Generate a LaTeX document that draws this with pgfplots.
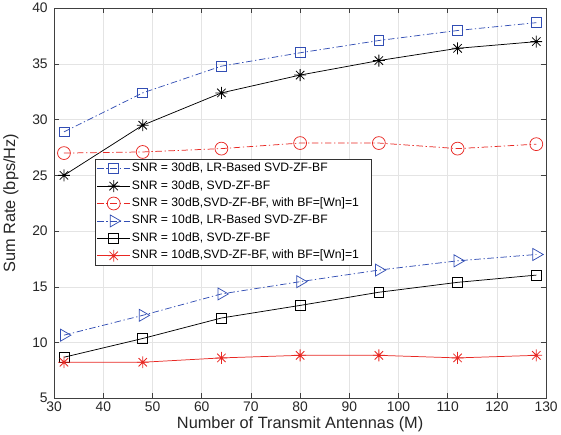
\documentclass[border=0pt]{standalone}
\usepackage{fontspec}
\setmainfont{Liberation Sans}
\usepackage{pgfplots}
\pgfplotsset{compat=1.18}
\definecolor{mblue}{RGB}{50,78,180}
\definecolor{mred}{RGB}{232,40,35}
\definecolor{gridc}{RGB}{228,228,228}
\pgfdeclareplotmark{mstar}{%
 \pgfpathmoveto{\pgfqpoint{-\pgfplotmarksize}{0pt}}\pgfpathlineto{\pgfqpoint{\pgfplotmarksize}{0pt}}%
 \pgfpathmoveto{\pgfqpoint{0pt}{-\pgfplotmarksize}}\pgfpathlineto{\pgfqpoint{0pt}{\pgfplotmarksize}}%
 \pgfpathmoveto{\pgfqpoint{-.7071\pgfplotmarksize}{-.7071\pgfplotmarksize}}\pgfpathlineto{\pgfqpoint{.7071\pgfplotmarksize}{.7071\pgfplotmarksize}}%
 \pgfpathmoveto{\pgfqpoint{-.7071\pgfplotmarksize}{.7071\pgfplotmarksize}}\pgfpathlineto{\pgfqpoint{.7071\pgfplotmarksize}{-.7071\pgfplotmarksize}}%
 \pgfusepathqstroke}
\tikzset{mdashdot/.style={dash pattern=on 6.5pt off 2.7pt on 1.3pt off 2.7pt}}
\begin{document}
\begin{tikzpicture}
\begin{axis}[
  scale only axis,
  width=497pt, height=394pt,
  xmin=30, xmax=130, ymin=5, ymax=40,
  xtick={30,40,...,130}, ytick={5,10,...,40},
  grid=major,
  major grid style={gridc, line width=0.6pt},
  tick align=inside,
  major tick length=5pt,
  axis line style={black!75, line width=0.6pt},
  tick style={black!75, line width=0.6pt},
  /pgf/number format/assume math mode=true,
  tick label style={font=\fontsize{14}{16}\selectfont, text=black!85},
  xticklabel style={yshift=0pt},
  yticklabel style={xshift=-3pt},
  label style={font=\fontsize{16.5}{19}\selectfont, text=black!85},
  xlabel={Number of Transmit Antennas (M)},
  ylabel={Sum Rate (bps/Hz)},
  xlabel style={yshift=2pt},
  ylabel style={yshift=7pt},
  legend style={at={(0.0825,0.6135)}, anchor=north west, font=\fontsize{12.3}{14}\selectfont, draw=black!80, line width=0.6pt, inner xsep=2pt, inner ysep=2pt, row sep=2.6pt, fill=white,
    nodes={inner sep=1.5pt, text height=9pt, text depth=3pt}},
  legend cell align=left,
  legend image code/.code={\draw[mark repeat=2,mark phase=2] plot coordinates {(0pt,0pt) (16.5pt,0pt) (33pt,0pt)};},
]
\addplot[mblue, mdashdot, line width=0.75pt, mark=square, mark size=5pt, mark options={solid}] coordinates {
(32,28.9) (48,32.4) (64,34.8) (80,36.0) (96,37.1) (112,38.0) (128,38.7)};
\addlegendentry{SNR = 30dB, LR-Based SVD-ZF-BF}
\addplot[black, line width=0.75pt, mark=mstar, mark size=6pt, mark options={solid, line width=0.8pt}] coordinates {
(32,25.0) (48,29.5) (64,32.4) (80,34.0) (96,35.3) (112,36.4) (128,37.0)};
\addlegendentry{SNR = 30dB, SVD-ZF-BF}
\addplot[mred, mdashdot, line width=0.75pt, mark=o, mark size=6.5pt, mark options={solid}] coordinates {
(32,27.0) (48,27.1) (64,27.4) (80,27.9) (96,27.9) (112,27.4) (128,27.8)};
\addlegendentry{SNR = 30dB,SVD-ZF-BF, with BF=[Wn]=1\hspace*{9pt}}
\addplot[mblue, mdashdot, line width=0.75pt, mark=triangle, mark size=7pt, mark options={solid, rotate=-90}] coordinates {
(32,10.66) (48,12.44) (64,14.36) (80,15.46) (96,16.5) (112,17.33) (128,17.9)};
\addlegendentry{SNR = 10dB, LR-Based SVD-ZF-BF}
\addplot[black, line width=0.75pt, mark=square, mark size=5pt, mark options={solid}] coordinates {
(32,8.68) (48,10.36) (64,12.2) (80,13.33) (96,14.51) (112,15.4) (128,16.05)};
\addlegendentry{SNR = 10dB, SVD-ZF-BF}
\addplot[mred, line width=0.75pt, mark=mstar, mark size=6pt, mark options={solid, line width=0.8pt}] coordinates {
(32,8.23) (48,8.23) (64,8.62) (80,8.85) (96,8.85) (112,8.62) (128,8.85)};
\addlegendentry{SNR = 10dB,SVD-ZF-BF, with BF=[Wn]=1}
\end{axis}
\end{tikzpicture}
\end{document}
